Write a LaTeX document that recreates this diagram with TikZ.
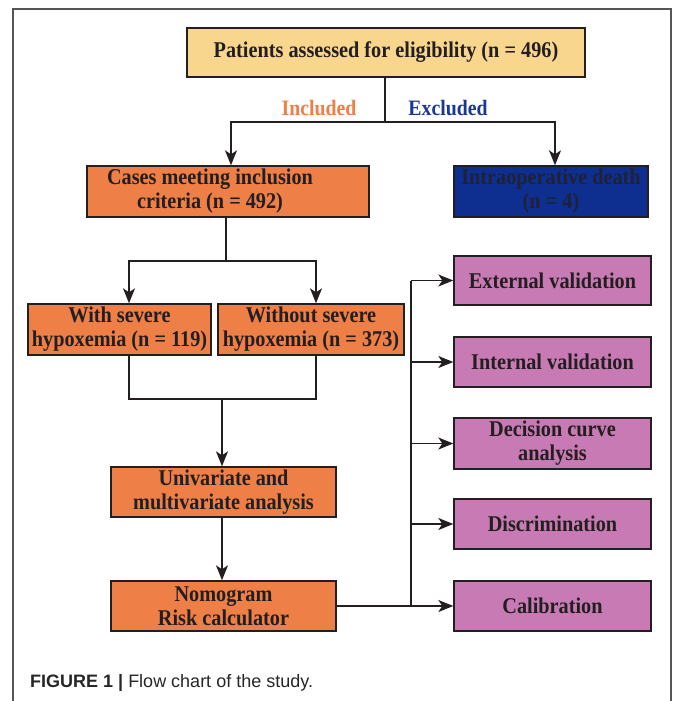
\documentclass[tikz,border=0pt]{standalone}
\usepackage{fontspec}
\setmainfont{Liberation Serif}[FakeStretch=0.9]
\newfontfamily\capfont{Liberation Sans}
\usetikzlibrary{arrows.meta}
\definecolor{ink}{HTML}{231F20}
\definecolor{topfill}{HTML}{F9D68E}
\definecolor{orfill}{HTML}{EE7F47}
\definecolor{bluefill}{HTML}{0E2F8F}
\definecolor{purfill}{HTML}{C77AB3}
\definecolor{inccol}{HTML}{EE7F47}
\definecolor{exccol}{HTML}{1B3793}
\definecolor{framecol}{HTML}{555555}
\tikzset{
  box/.style={draw=ink, line width=1.4pt, inner sep=0pt, align=center,
    text=ink, font=\fontsize{22.5}{24}\selectfont\bfseries},
  topbox/.style={box, fill=topfill},
  orbox/.style={box, fill=orfill},
  bluebox/.style={box, fill=bluefill, text=ink!80!bluefill},
  purbox/.style={box, fill=purfill, minimum width=197pt},
  conn/.style={draw=ink, line width=1.4pt},
  arr/.style={conn, -{Stealth[length=15pt,width=12pt,inset=4pt]}},
  lbl/.style={font=\fontsize{22}{24}\selectfont\bfseries, inner sep=0pt}
}
\begin{document}
\begin{tikzpicture}[x=1pt,y=-1pt]
\useasboundingbox (0,0) rectangle (672,701);
\draw[framecol, line width=1.3pt] (13,702) -- (13,9) -- (671,9) -- (671,702);

\node[topbox, minimum width=398pt, minimum height=49pt] (top) at (386,52.5) {Patients assessed for eligibility (n = 496)};
\node[orbox, minimum width=282pt, minimum height=51pt] (cases) at (228,191.5) {\hspace*{-36pt}\begin{tabular}{@{}c@{}}Cases meeting inclusion\\criteria (n = 492)\end{tabular}};
\node[bluebox, minimum width=194pt, minimum height=51pt] (death) at (551,191.5) {Intraoperative death\\(n = 4)};
\node[orbox, minimum width=183pt, minimum height=51pt] (with) at (119.5,329.5) {With severe\\hypoxemia (n = 119)};
\node[orbox, minimum width=186pt, minimum height=51pt] (without) at (311,329.5) {Without severe\\hypoxemia (n = 373)};
\node[orbox, minimum width=225pt, minimum height=50pt] (uni) at (223.5,492) {Univariate and\\multivariate analysis};
\node[orbox, minimum width=225pt, minimum height=50pt] (nomo) at (223.5,606) {Nomogram\\Risk calculator};
\node[purbox, minimum height=49pt] (ext) at (552.5,280.5) {External validation};
\node[purbox, minimum height=50pt] (int) at (552.5,362) {Internal validation};
\node[purbox, minimum height=51pt] (dec) at (552.5,443.5) {Decision curve\\analysis};
\node[purbox, minimum height=50pt] (dis) at (552.5,524) {Discrimination};
\node[purbox, minimum height=50pt] (cal) at (552.5,606) {Calibration};

\node[lbl, text=inccol] (inc) at (319,108) {Included};
\node[lbl, text=exccol] (exc) at (448,108) {Excluded};

% top split
\coordinate (s1) at (385,122);
\draw[conn] (top.south -| s1) -- (s1);
\draw[arr] (s1) -| ([xshift=3pt]cases.north);
\draw[arr] (s1) -| ([xshift=4pt]death.north);

% cases split
\coordinate (s2) at (226,261);
\draw[conn] (cases.south -| s2) -- (s2);
\draw[arr] (s2) -| ([xshift=9.5pt]with.north);
\draw[arr] (s2) -| ([xshift=5pt]without.north);

% merge
\coordinate (m1) at (222,399);
\draw[conn] ([xshift=9.5pt]with.south) |- (m1);
\draw[conn] ([xshift=5pt]without.south) |- (m1);
\draw[arr] (m1) -- (uni.north -| m1);
\draw[arr] (uni.south -| m1) -- (nomo.north -| m1);

% validation fan
\coordinate (v0) at (411,606);
\coordinate (vt) at (411,280.5);
\draw[arr] (nomo.east) -- (cal.west);
\draw[conn] (v0) -- (vt);
\draw[arr] (vt) -- (ext.west);
\draw[arr] (int.west -| vt) -- (int.west);
\draw[arr] (dec.west -| vt) -- (dec.west);
\draw[arr] (dis.west -| vt) -- (dis.west);

\node[anchor=base west, inner sep=0pt, text=black!85, font=\capfont\fontsize{18}{20}\selectfont] (cap) at (30,687) {\textbf{FIGURE 1} \textbf{|} Flow chart of the study.};
\end{tikzpicture}
\end{document}
